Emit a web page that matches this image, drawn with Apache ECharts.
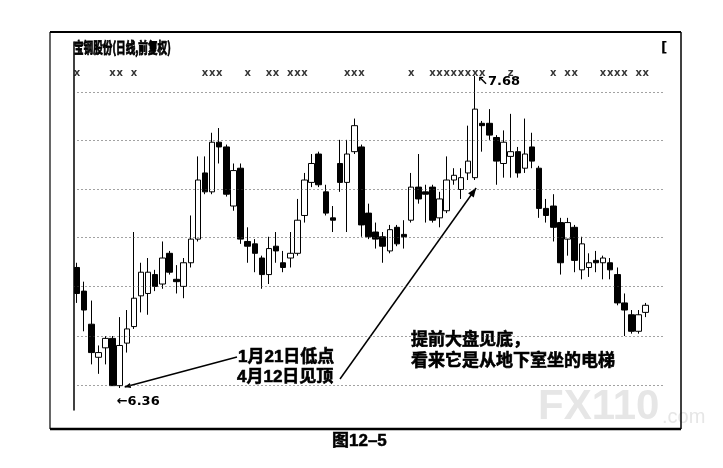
<!DOCTYPE html>
<html>
<head>
<meta charset="utf-8">
<script src="https://cdn.jsdelivr.net/npm/echarts@6/dist/echarts.min.js"></script>
<style>
  html, body { margin: 0; padding: 0; background: #fff; }
  #chart { width: 723px; height: 468px; }
</style>
</head>
<body>
<div id="chart"></div>
<script>
// 宝钢股份 daily bars (forward-adjusted), one entry per trading day
const open = [6.87, 6.77, 6.63, 6.49, 6.53, 6.57, 6.37, 6.55, 6.62, 6.75,
  6.76, 6.84, 6.80, 6.93, 6.82, 6.79, 6.89, 6.99, 7.27, 7.19,
  7.40, 7.38, 7.13, 7.29, 6.98, 6.97, 6.91, 6.84, 6.96, 6.89,
  6.91, 6.93, 7.09, 7.23, 7.35, 7.19, 7.08, 7.31, 7.23, 7.36,
  7.38, 7.10, 7.02, 7.00, 6.94, 7.04, 7.01, 7.07, 7.21, 7.19,
  7.21, 7.08, 7.11, 7.24, 7.20, 7.27, 7.25, 7.48, 7.48, 7.42,
  7.31, 7.34, 7.36, 7.29, 7.38, 7.29, 7.12, 7.13, 7.06, 6.99,
  7.04, 6.86, 6.87, 6.90, 6.89, 6.89, 6.84, 6.72, 6.67, 6.60, 6.68];
const close = [6.76, 6.69, 6.51, 6.51, 6.57, 6.37, 6.54, 6.61, 6.74, 6.85,
  6.85, 6.79, 6.91, 6.85, 6.81, 6.89, 6.99, 7.24, 7.19, 7.40,
  7.38, 7.18, 7.28, 6.99, 6.96, 6.93, 6.84, 6.95, 6.94, 6.87,
  6.93, 7.07, 7.24, 7.31, 7.22, 7.10, 7.07, 7.23, 7.35, 7.47,
  7.05, 7.00, 6.99, 6.96, 7.03, 6.97, 7.00, 7.21, 7.16, 7.18,
  7.07, 7.16, 7.24, 7.26, 7.25, 7.32, 7.54, 7.47, 7.43, 7.32,
  7.40, 7.36, 7.27, 7.35, 7.32, 7.12, 7.09, 7.04, 6.89, 7.06,
  6.90, 6.97, 6.89, 6.89, 6.91, 6.86, 6.72, 6.69, 6.60, 6.67, 6.71];
const low = [6.72, 6.60, 6.46, 6.42, 6.46, 6.37, 6.36, 6.51, 6.61, 6.68,
  6.67, 6.77, 6.78, 6.84, 6.76, 6.74, 6.87, 6.98, 7.18, 7.18,
  7.31, 7.17, 7.11, 6.97, 6.89, 6.85, 6.78, 6.80, 6.89, 6.85,
  6.87, 6.92, 7.06, 7.21, 7.21, 7.09, 7.02, 7.19, 7.02, 7.35,
  7.00, 6.99, 6.95, 6.89, 6.93, 6.96, 6.95, 7.06, 7.14, 7.06,
  7.06, 7.04, 7.10, 7.22, 7.16, 7.24, 7.24, 7.36, 7.41, 7.22,
  7.25, 7.25, 7.25, 7.27, 7.29, 7.08, 7.06, 6.98, 6.84, 6.92,
  6.85, 6.82, 6.83, 6.85, 6.82, 6.82, 6.71, 6.58, 6.59, 6.59, 6.66];
const high = [6.89, 6.81, 6.73, 6.54, 6.58, 6.58, 6.66, 6.69, 7.02, 6.89,
  6.91, 6.86, 6.98, 6.94, 6.88, 6.91, 7.09, 7.34, 7.34, 7.44,
  7.46, 7.39, 7.31, 7.31, 7.04, 6.99, 6.92, 7.00, 7.02, 6.94,
  7.02, 7.16, 7.27, 7.35, 7.36, 7.22, 7.13, 7.41, 7.41, 7.50,
  7.39, 7.14, 7.06, 7.02, 7.05, 7.05, 7.07, 7.27, 7.35, 7.22,
  7.22, 7.19, 7.34, 7.29, 7.29, 7.47, 7.68, 7.49, 7.54, 7.43,
  7.45, 7.52, 7.38, 7.50, 7.44, 7.30, 7.16, 7.18, 7.08, 7.08,
  7.05, 7.00, 6.93, 6.94, 6.92, 6.91, 6.87, 6.76, 6.69, 6.69, 6.72];

// trading-day numbers used as categories
const days = open.map((_, i) => String(i + 1));

// dotted reference levels of the price panel
const gridLevels = [6.37, 6.58, 6.79, 7.00, 7.20, 7.41, 7.61];

// days carrying an information marker in the top strip
const infoMarkDays = [1, 6, 7, 9, 19, 20, 21, 25, 28, 29, 31, 32, 33, 39, 40, 41, 48,
  51, 52, 53, 54, 55, 56, 57, 58, 62, 68, 70, 71, 75, 76, 77, 78, 80, 81];
const noteMarkDays = [62];
const MARK_LEVEL = 7.69;

// the two days pointed at by the notes (1月21日 low, 4月12日 top)
const lowDay = 7;
const topDay = 57;

const ohlc = open.map((o, i) => [o, close[i], low[i], high[i]]);

const latin = '"Liberation Sans", "Noto Sans CJK SC", sans-serif';
const cjk = '"Liberation Sans", "Noto Sans CJK SC", "Noto Sans", sans-serif';

const chart = echarts.init(document.getElementById('chart'), null, { renderer: 'canvas' });

chart.setOption({
  animation: false,
  backgroundColor: '#fff',
  grid: { left: 73.5, top: 42, width: 590, height: 368, containLabel: false },
  xAxis: {
    type: 'category',
    data: days,
    max: days.length + 1,
    axisLine: { show: false },
    axisTick: { show: false },
    axisLabel: { show: false },
    splitLine: { show: false }
  },
  yAxis: {
    type: 'value',
    min: 6.267,
    max: 7.824,
    axisLine: { show: true, lineStyle: { color: '#000', width: 1.5 } },
    axisTick: { show: false },
    axisLabel: { show: false },
    splitLine: { show: false }
  },
  series: [
    {
      type: 'candlestick',
      data: ohlc,
      barWidth: 6,
      itemStyle: {
        color: '#fff',
        color0: '#000',
        borderColor: '#000',
        borderColor0: '#000',
        borderWidth: 1
      },
      markLine: {
        silent: true,
        symbol: ['none', 'none'],
        label: { show: false },
        lineStyle: { type: [1, 3], color: '#444', width: 1 },
        data: gridLevels.map(v => ({ yAxis: v }))
      },
      z: 2
    },
    {
      type: 'scatter',
      silent: true,
      symbol: 'circle',
      symbolSize: 1,
      itemStyle: { color: 'rgba(0,0,0,0)' },
      data: infoMarkDays.map(d => ({
        value: [d - 1, MARK_LEVEL],
        label: { formatter: noteMarkDays.includes(d) ? 'z' : 'x' }
      })),
      label: {
        show: true,
        position: 'inside',
        color: '#000',
        fontSize: 10,
        fontWeight: 'bold',
        fontFamily: '"DejaVu Sans", sans-serif'
      },
      labelLayout: { hideOverlap: false },
      z: 3
    }
  ]
});

// extremes
let minIdx = 0, maxIdx = 0;
low.forEach((v, i) => { if (v < low[minIdx]) minIdx = i; });
high.forEach((v, i) => { if (v > high[maxIdx]) maxIdx = i; });
const minLow = low[minIdx];
const maxHigh = high[maxIdx];

const px = (i, v) => chart.convertToPixel({ xAxisIndex: 0, yAxisIndex: 0 }, [i, v]);
const loPt = px(minIdx, minLow);
const hiPt = px(maxIdx, maxHigh);
const lowNotePt = px(lowDay - 1, low[lowDay - 1]);
const topNotePt = px(topDay - 1, low[topDay - 1]);

function arrowHead(from, to, len, half) {
  const dx = to[0] - from[0], dy = to[1] - from[1];
  const d = Math.hypot(dx, dy);
  const ux = dx / d, uy = dy / d;
  const bx = to[0] - ux * len, by = to[1] - uy * len;
  return {
    type: 'polygon',
    shape: { points: [to, [bx - uy * half, by + ux * half], [bx + uy * half, by - ux * half]] },
    style: { fill: '#000' },
    silent: true
  };
}

const note1From = [237, 357];
const note1To = [lowNotePt[0] + 5, lowNotePt[1] - 1];
const note2From = [340, 379];
const note2To = [topNotePt[0] + 1, topNotePt[1] + 8];

const line = (x1, y1, x2, y2, w) => ({
  type: 'line', silent: true,
  shape: { x1, y1, x2, y2 },
  style: { stroke: '#000', lineWidth: w }
});

const note = (x, y, text) => ({
  type: 'text', silent: true, x, y,
  style: { text, font: 'bold 17px ' + cjk, fill: '#000', stroke: '#000', lineWidth: 0.6,
    textVerticalAlign: 'top' }
});

const tagFont = 'bold 13px "Liberation Sans Narrow", "DejaVu Sans", sans-serif';

chart.setOption({
  graphic: [
    // watermark
    { type: 'text', silent: true, z: -1, x: 538, y: 428,
      style: { text: 'FX110', font: 'bold 42px "Liberation Sans", sans-serif', fill: '#e6e6e6',
        textVerticalAlign: 'bottom' } },
    { type: 'text', silent: true, z: -1, x: 662, y: 427,
      style: { text: '.com', font: '20px "Liberation Sans", sans-serif', fill: '#e6e6e6',
        textVerticalAlign: 'bottom' } },
    // panel frame
    line(50, 32, 681, 32, 2),
    line(681, 32, 681, 429, 1.5),
    line(50, 429, 681, 429, 2.5),
    line(50, 32, 50, 429, 1.2),
    // panel title
    { type: 'text', silent: true, x: 74, y: 40, scaleX: 0.64,
      style: { text: '宝钢股份(日线,前复权)', font: 'bold 15px "Noto Sans CJK SC", sans-serif',
        fill: '#000', stroke: '#000', lineWidth: 0.9, textVerticalAlign: 'top' } },
    { type: 'text', silent: true, x: 661, y: 41,
      style: { text: '[', font: 'bold 14px "DejaVu Sans", sans-serif', fill: '#000', textVerticalAlign: 'top' } },
    // extreme price tags
    { type: 'text', silent: true, x: hiPt[0] + 2, y: hiPt[1] - 1,
      style: { text: '↖' + maxHigh.toFixed(2), font: tagFont, fill: '#000', textVerticalAlign: 'top' } },
    { type: 'text', silent: true, x: loPt[0] - 3, y: loPt[1] + 7,
      style: { text: '←' + minLow.toFixed(2), font: tagFont, fill: '#000', textVerticalAlign: 'top' } },
    // pointer lines of the notes
    line(note1From[0], note1From[1], note1To[0], note1To[1], 1.5),
    arrowHead(note1From, note1To, 6, 2.5),
    line(note2From[0], note2From[1], note2To[0], note2To[1], 1.5),
    arrowHead(note2From, note2To, 9, 3.5),
    // notes
    note(238, 349, '1月21日低点'),
    note(237, 369, '4月12日见顶'),
    note(411, 332, '提前大盘见底，'),
    note(411, 353, '看来它是从地下室坐的电梯'),
    // figure caption
    { type: 'text', silent: true, x: 332, y: 433,
      style: { text: '图12–5', font: 'bold 17px ' + latin, fill: '#000', stroke: '#000', lineWidth: 0.5,
        textVerticalAlign: 'top' } }
  ]
});
</script>
</body>
</html>
